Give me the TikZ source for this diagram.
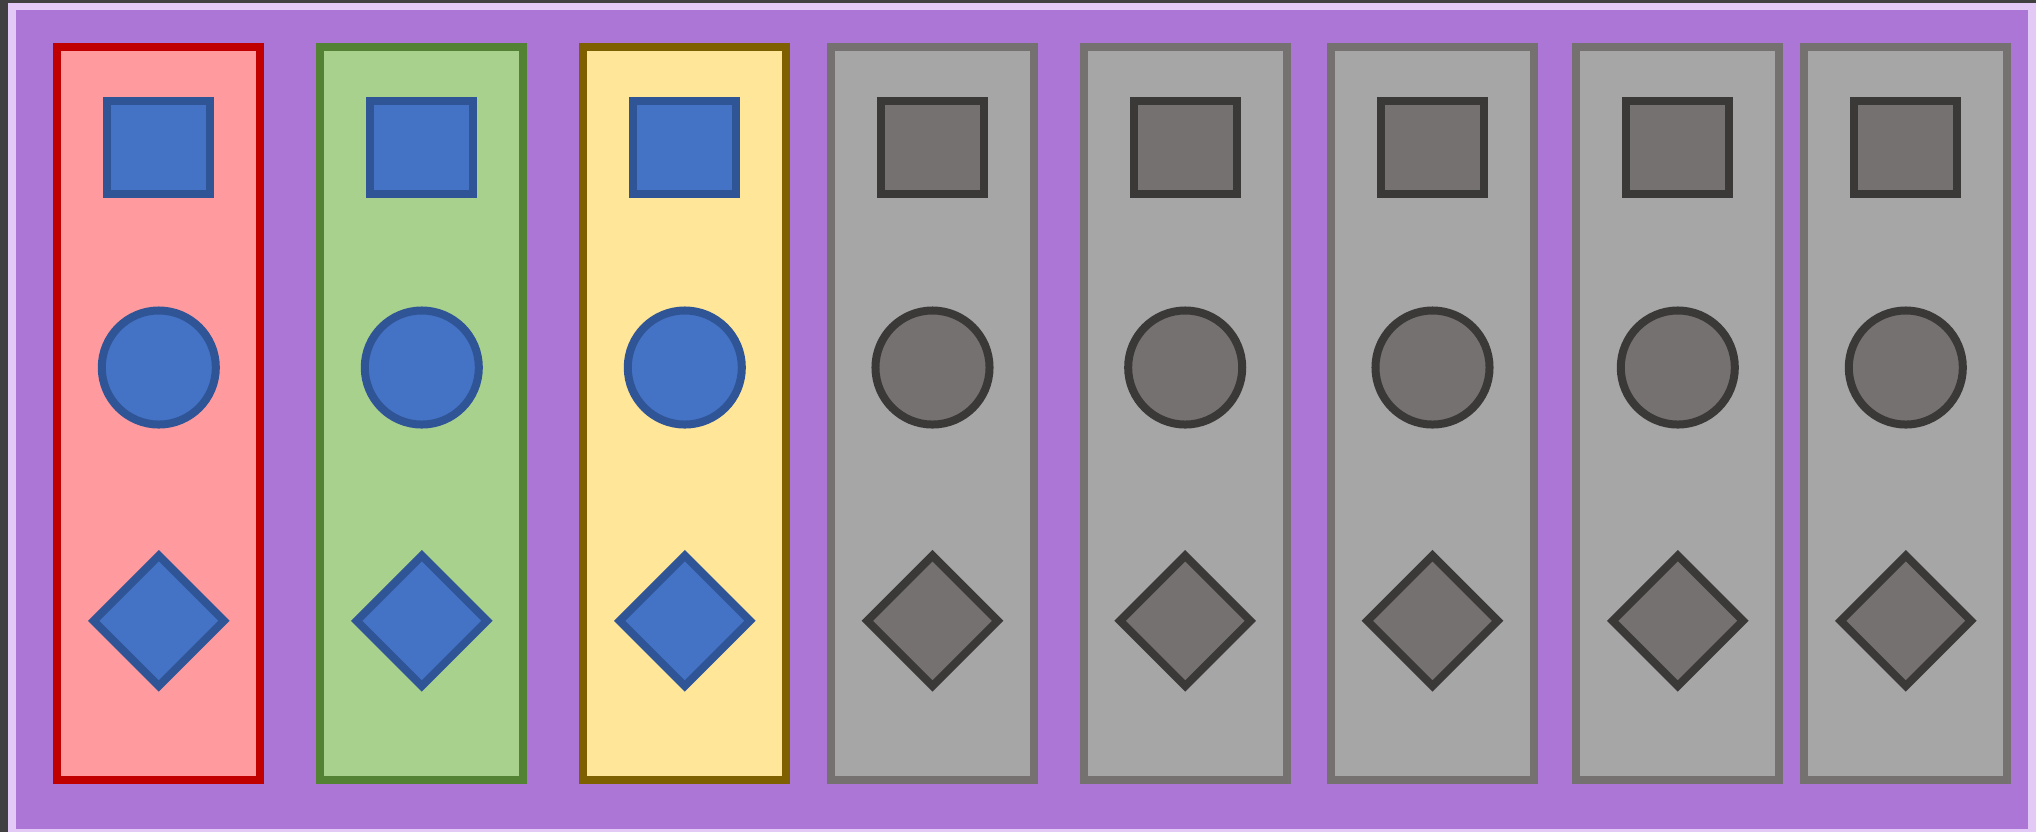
\documentclass[tikz,border=0pt]{standalone}
\usepackage{xcolor}
\usepackage{tikz}
\usetikzlibrary{shapes.geometric, positioning}

\definecolor{frameDark}{HTML}{404040}
\definecolor{frameLav}{HTML}{E3C9F5}
\definecolor{boardPurple}{HTML}{AB76D6}
\definecolor{redFill}{HTML}{FF9B9E}
\definecolor{redLine}{HTML}{C00000}
\definecolor{greenFill}{HTML}{A9D18E}
\definecolor{greenLine}{HTML}{548235}
\definecolor{yellowFill}{HTML}{FFE699}
\definecolor{yellowLine}{HTML}{7F6000}
\definecolor{grayFill}{HTML}{A6A6A6}
\definecolor{grayLine}{HTML}{767171}
\definecolor{blueFill}{HTML}{4472C4}
\definecolor{blueLine}{HTML}{2F5597}
\definecolor{slateFill}{HTML}{767171}
\definecolor{slateLine}{HTML}{3B3838}

\begin{document}
\begin{tikzpicture}[
    x=0.01cm, y=-0.01cm,
    every node/.style={inner sep=0pt, line width=0.08cm, draw},
    column/.style={rectangle, minimum width=2.03cm, minimum height=7.32cm},
    redcol/.style={column, fill=redFill, draw=redLine},
    greencol/.style={column, fill=greenFill, draw=greenLine},
    yellowcol/.style={column, fill=yellowFill, draw=yellowLine},
    graycol/.style={column, fill=grayFill, draw=grayLine},
    sq/.style={rectangle, minimum width=1.03cm, minimum height=0.93cm},
    dot/.style={circle, minimum size=1.14cm},
    gem/.style={diamond, aspect=1, minimum width=1.336cm, minimum height=1.336cm},
    blue/.style={fill=blueFill, draw=blueLine},
    slate/.style={fill=slateFill, draw=slateLine}
]

% ============================================================
% BOARD
% ============================================================
\fill[frameDark] (0,0) rectangle (2036,832);
\fill[frameLav] (8.3,2.5) rectangle (2036,832);
\fill[boardPurple] (16,10) rectangle (2028,829);
\useasboundingbox (0,0) rectangle (2036,832);

% ============================================================
% COLOURED COLUMNS
% ============================================================
\node[redcol]    (col1) at (158.8,413.3) {};
\node[greencol]  (col2) at (421.8,413.3) {};
\node[yellowcol] (col3) at (684.8,413.3) {};

\node[sq, blue]  (sq1)  at (158.8,147.5) {};
\node[dot, blue] (dot1) at (158.8,367.5) {};
\node[gem, blue] (gem1) at (158.8,620.8) {};

\node[sq, blue]  (sq2)  at (421.8,147.5) {};
\node[dot, blue] (dot2) at (421.8,367.5) {};
\node[gem, blue] (gem2) at (421.8,620.8) {};

\node[sq, blue]  (sq3)  at (684.8,147.5) {};
\node[dot, blue] (dot3) at (684.8,367.5) {};
\node[gem, blue] (gem3) at (684.8,620.8) {};

% ============================================================
% GRAY COLUMNS
% ============================================================
\foreach \i/\cx in {4/932.5, 5/1185.2, 6/1432.5, 7/1677.8, 8/1905.8} {
    \node[graycol]    (col\i) at (\cx,413.3) {};
    \node[sq, slate]  (sq\i)  at (\cx,147.5) {};
    \node[dot, slate] (dot\i) at (\cx,367.5) {};
    \node[gem, slate] (gem\i) at (\cx,620.8) {};
}

\end{tikzpicture}
\end{document}
